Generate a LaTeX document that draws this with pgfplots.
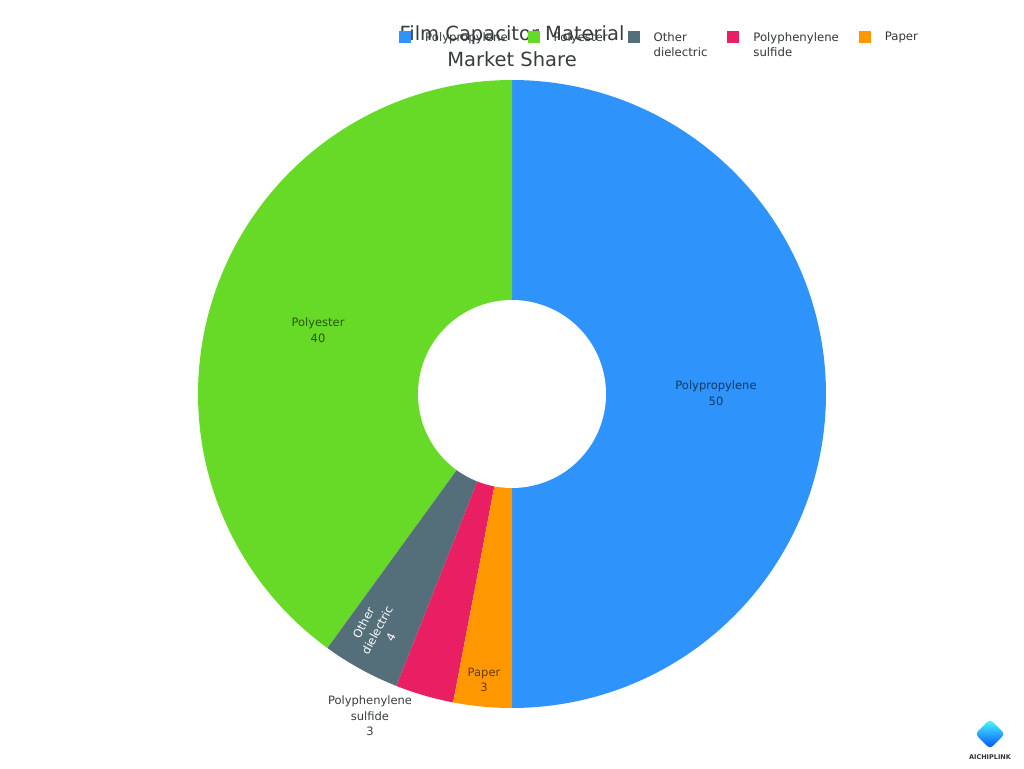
\documentclass[border=0pt]{standalone}
\usepackage{fontspec}
\setmainfont{DejaVu Sans}
\usepackage{pgfplots}
\pgfplotsset{compat=1.18}
\usetikzlibrary{shapes.geometric}
\definecolor{cPP}{HTML}{2E93FA}
\definecolor{cPE}{HTML}{66DA26}
\definecolor{cOD}{HTML}{546E7A}
\definecolor{cPPS}{HTML}{E91E63}
\definecolor{cPA}{HTML}{FF9800}
\definecolor{ctitle}{HTML}{373D3F}
% values (percent): Polypropylene 50, Polyester 40, Other dielectric 4, Polyphenylene sulfide 3, Paper 3
% wedges drawn counter-clockwise from 12 o'clock: Polyester, Other, PPS, Paper, Polypropylene
\newcommand{\piewedge}[3]{%
  \addplot[fill=#3, draw=none, domain={90+3.6*#1}:{90+3.6*#2}, samples=120, variable=\t]
    ({512+314*cos(t)},{374+314*sin(t)}) -- (axis cs:512,374) -- cycle;}
\begin{document}
\begin{tikzpicture}
\begin{axis}[
  at={(0,0)}, anchor=south west,
  width=1024pt, height=768pt, scale only axis,
  xmin=0, xmax=1024, ymin=0, ymax=768,
  hide axis, clip=false,
  legend columns=5,
  legend image code/.code={\fill[#1] (0pt,-13pt) rectangle (12pt,-1pt);},
  legend style={draw=none, fill=none, at={(axis cs:396,740)}, anchor=north west,
    font=\fontsize{11.7}{15.5}\selectfont, text=ctitle!90!black,
    cells={align=left, anchor=north west},
    /tikz/every odd column/.append style={column sep=12pt},
    /tikz/every even column/.append style={column sep=18pt}},
]
\piewedge{50}{100}{cPP}
\addlegendentry{Polypropylene}
\piewedge{0}{40}{cPE}
\addlegendentry{Polyester}
\piewedge{40}{44}{cOD}
\addlegendentry{Other\\dielectric}
\piewedge{44}{47}{cPPS}
\addlegendentry{Polyphenylene\\sulfide}
\piewedge{47}{50}{cPA}
\addlegendentry{Paper}
% hole
\addplot[fill=white, draw=none, domain=0:360, samples=160, variable=\t, forget plot]
  ({512+94*cos(t)},{374+94*sin(t)}) -- cycle;
% data labels
\begin{scope}[every node/.style={align=center, font=\fontsize{11.5}{15.5}\selectfont}]
\node[text=black, text opacity=0.6] at (axis cs:716,375) {Polypropylene\\50};
\node[text=black, text opacity=0.6] at (axis cs:318,438) {Polyester\\40};
\node[text=white, rotate=62] at (axis cs:377,138) {Other\\dielectric\\4};
\node[text=black, text opacity=0.6] at (axis cs:484,88) {Paper\\3};
\node[text=ctitle] at (axis cs:370,52) {Polyphenylene\\sulfide\\3};
\end{scope}
% title
\node[align=center, text=ctitle, font=\fontsize{19.5}{26}\selectfont] at (axis cs:512,722) {Film Capacitor Material\\Market Share};
% watermark
\node[diamond, aspect=1, minimum size=30pt, inner sep=0pt, rounded corners=4pt,
      top color=cyan!70!white, bottom color=blue!70!cyan] at (axis cs:990,34) {};
\node[font=\bfseries\fontsize{6.5}{7}\selectfont, text=black!80] at (axis cs:990,11) {AICHIPLINK};
\end{axis}
\pgfresetboundingbox
\path (0,0) rectangle (1024pt,768pt);
\end{tikzpicture}
\end{document}
